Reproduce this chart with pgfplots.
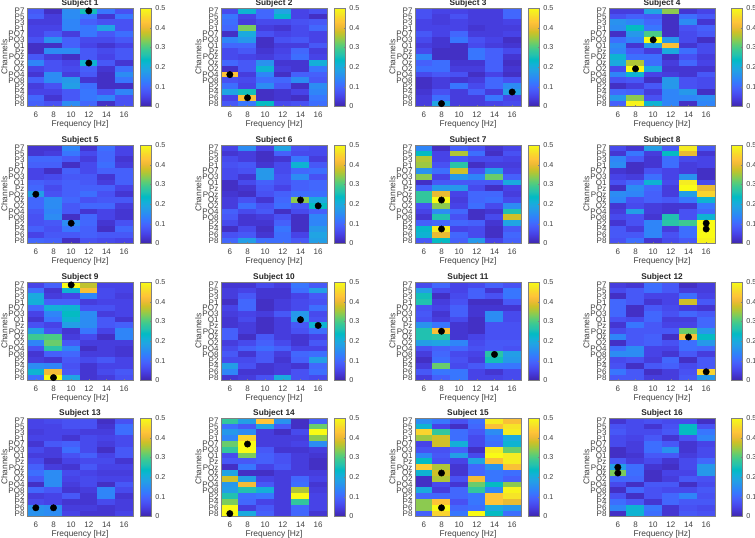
\documentclass[border=0pt]{standalone}
\usepackage{pgfplots}
\usepackage{pgfplotstable}
\usepackage{fontspec}
\setmainfont{Liberation Sans}
\pgfplotsset{compat=1.18}

% rows P7 ... P8, columns 6 ... 16 Hz
\pgfplotstableread[header=false]{
0.08 0.02 0.15 0.25 0.12 0.07
0.09 0.04 0.15 0.12 0.03 0.12
0.04 0.04 0.14 0.09 0.07 0.07
0.05 0.05 0.14 0.12 0.19 0.07
0.05 0.08 0.04 0.12 0.08 0.11
0.07 0.16 0.09 0.06 0.06 0.08
0.02 0.02 0.09 0.05 0.03 0.05
0.02 0.15 0.15 0.08 0.06 0.08
0.08 0.04 0.02 0.08 0.05 0.08
0.14 0.07 0.05 0.22 0.08 0.03
0.05 0.07 0.06 0.09 0.03 0.11
0.03 0.15 0.04 0.08 0.02 0.15
0.09 0.15 0.17 0.03 0.02 0.12
0.04 0.07 0.18 0.11 0.02 0.02
0.05 0.05 0.08 0.12 0.07 0.14
0.10 0.03 0.08 0.12 0.14 0.07
0.09 0.07 0.15 0.10 0.02 0.07
}\tA
\pgfplotstableread[header=false]{
0.06 0.22 0.10 0.19 0.05 0.07
0.12 0.05 0.10 0.23 0.05 0.02
0.11 0.04 0.06 0.06 0.07 0.08
0.10 0.33 0.04 0.03 0.06 0.10
0.02 0.20 0.07 0.05 0.06 0.05
0.14 0.17 0.02 0.07 0.08 0.05
0.10 0.10 0.02 0.04 0.04 0.08
0.06 0.08 0.03 0.05 0.10 0.04
0.06 0.05 0.04 0.06 0.11 0.05
0.10 0.08 0.16 0.03 0.03 0.21
0.02 0.08 0.22 0.04 0.03 0.12
0.43 0.04 0.14 0.02 0.09 0.09
0.07 0.06 0.11 0.10 0.15 0.08
0.11 0.05 0.15 0.08 0.02 0.15
0.19 0.25 0.02 0.03 0.05 0.14
0.05 0.42 0.02 0.03 0.02 0.12
0.08 0.12 0.24 0.06 0.07 0.11
}\tB
\pgfplotstableread[header=false]{
0.07 0.05 0.05 0.04 0.04 0.10
0.07 0.04 0.07 0.04 0.04 0.10
0.05 0.04 0.05 0.04 0.04 0.05
0.05 0.05 0.05 0.03 0.04 0.04
0.08 0.05 0.10 0.04 0.04 0.05
0.06 0.03 0.12 0.07 0.05 0.02
0.04 0.03 0.02 0.06 0.04 0.03
0.06 0.02 0.02 0.12 0.09 0.06
0.14 0.02 0.02 0.12 0.09 0.03
0.09 0.11 0.03 0.03 0.09 0.02
0.11 0.11 0.04 0.04 0.09 0.03
0.06 0.08 0.07 0.02 0.05 0.02
0.02 0.04 0.03 0.04 0.10 0.07
0.02 0.04 0.12 0.06 0.10 0.15
0.03 0.07 0.04 0.09 0.04 0.18
0.04 0.11 0.04 0.04 0.12 0.05
0.04 0.19 0.04 0.04 0.05 0.06
}\tC
\pgfplotstableread[header=false]{
0.04 0.04 0.19 0.34 0.03 0.05
0.07 0.09 0.08 0.02 0.11 0.08
0.16 0.14 0.10 0.02 0.15 0.03
0.15 0.24 0.12 0.02 0.07 0.09
0.02 0.17 0.30 0.02 0.06 0.08
0.11 0.14 0.50 0.17 0.06 0.02
0.15 0.03 0.18 0.42 0.03 0.06
0.14 0.08 0.04 0.20 0.11 0.06
0.22 0.11 0.11 0.02 0.07 0.04
0.20 0.36 0.11 0.04 0.10 0.05
0.06 0.50 0.20 0.03 0.03 0.03
0.14 0.22 0.05 0.04 0.03 0.08
0.07 0.08 0.02 0.17 0.07 0.06
0.02 0.04 0.08 0.17 0.07 0.06
0.10 0.09 0.04 0.14 0.17 0.02
0.17 0.34 0.07 0.14 0.14 0.15
0.09 0.49 0.22 0.14 0.02 0.14
}\tD
\pgfplotstableread[header=false]{
0.03 0.03 0.14 0.03 0.11 0.05
0.03 0.04 0.12 0.06 0.10 0.05
0.10 0.10 0.08 0.04 0.10 0.03
0.09 0.09 0.02 0.06 0.11 0.04
0.05 0.02 0.09 0.06 0.09 0.09
0.05 0.06 0.08 0.08 0.03 0.09
0.09 0.08 0.09 0.08 0.04 0.09
0.10 0.06 0.09 0.09 0.09 0.05
0.18 0.07 0.09 0.11 0.07 0.03
0.10 0.15 0.10 0.07 0.08 0.08
0.10 0.15 0.08 0.10 0.10 0.04
0.08 0.14 0.08 0.03 0.05 0.03
0.07 0.15 0.02 0.10 0.05 0.03
0.07 0.08 0.15 0.10 0.03 0.07
0.09 0.07 0.12 0.09 0.02 0.10
0.05 0.08 0.08 0.09 0.08 0.08
0.10 0.09 0.02 0.07 0.06 0.05
}\tE
\pgfplotstableread[header=false]{
0.05 0.15 0.05 0.19 0.07 0.06
0.03 0.04 0.02 0.09 0.06 0.06
0.06 0.04 0.02 0.03 0.12 0.04
0.07 0.08 0.03 0.06 0.22 0.08
0.06 0.07 0.17 0.06 0.10 0.11
0.06 0.03 0.17 0.07 0.15 0.07
0.02 0.06 0.09 0.07 0.09 0.10
0.02 0.03 0.08 0.05 0.09 0.10
0.03 0.02 0.07 0.09 0.11 0.11
0.04 0.07 0.03 0.10 0.34 0.20
0.04 0.11 0.07 0.11 0.08 0.24
0.09 0.06 0.08 0.02 0.06 0.09
0.08 0.03 0.04 0.07 0.02 0.14
0.06 0.03 0.03 0.09 0.02 0.14
0.02 0.06 0.02 0.12 0.02 0.17
0.07 0.08 0.03 0.11 0.05 0.19
0.10 0.18 0.11 0.11 0.08 0.18
}\tF
\pgfplotstableread[header=false]{
0.14 0.02 0.09 0.07 0.03 0.05
0.24 0.05 0.36 0.11 0.02 0.07
0.36 0.05 0.08 0.06 0.06 0.05
0.35 0.07 0.27 0.02 0.04 0.04
0.16 0.11 0.38 0.07 0.18 0.05
0.34 0.05 0.17 0.14 0.32 0.09
0.02 0.08 0.08 0.08 0.08 0.20
0.09 0.17 0.17 0.06 0.02 0.05
0.28 0.40 0.05 0.10 0.10 0.04
0.28 0.50 0.04 0.10 0.11 0.06
0.07 0.34 0.05 0.11 0.06 0.15
0.05 0.15 0.10 0.02 0.03 0.26
0.03 0.26 0.07 0.02 0.06 0.38
0.09 0.10 0.10 0.09 0.03 0.19
0.23 0.48 0.05 0.06 0.02 0.08
0.22 0.40 0.10 0.06 0.02 0.10
0.08 0.24 0.09 0.17 0.05 0.09
}\tG
\pgfplotstableread[header=false]{
0.06 0.03 0.18 0.08 0.48 0.08
0.03 0.12 0.04 0.24 0.40 0.03
0.14 0.08 0.03 0.11 0.06 0.05
0.15 0.02 0.03 0.11 0.04 0.05
0.03 0.02 0.07 0.05 0.04 0.02
0.05 0.04 0.11 0.05 0.16 0.02
0.07 0.10 0.22 0.06 0.48 0.06
0.02 0.15 0.10 0.04 0.50 0.40
0.15 0.14 0.09 0.04 0.18 0.45
0.14 0.07 0.09 0.08 0.12 0.22
0.03 0.06 0.04 0.03 0.03 0.12
0.04 0.18 0.04 0.03 0.07 0.10
0.06 0.07 0.03 0.26 0.07 0.22
0.03 0.07 0.14 0.27 0.29 0.50
0.08 0.04 0.14 0.04 0.11 0.50
0.08 0.08 0.14 0.07 0.11 0.50
0.07 0.11 0.03 0.06 0.08 0.49
}\tH
\pgfplotstableread[header=false]{
0.05 0.09 0.50 0.37 0.05 0.05
0.11 0.03 0.22 0.42 0.06 0.05
0.20 0.04 0.05 0.14 0.06 0.04
0.21 0.09 0.09 0.04 0.05 0.05
0.10 0.21 0.22 0.07 0.07 0.05
0.05 0.14 0.24 0.15 0.04 0.05
0.03 0.12 0.22 0.15 0.08 0.03
0.07 0.05 0.18 0.15 0.08 0.09
0.18 0.07 0.03 0.12 0.05 0.14
0.29 0.30 0.04 0.06 0.02 0.14
0.14 0.32 0.08 0.04 0.04 0.04
0.07 0.27 0.14 0.02 0.04 0.03
0.03 0.09 0.10 0.04 0.04 0.03
0.04 0.03 0.08 0.06 0.08 0.05
0.15 0.14 0.07 0.03 0.05 0.05
0.22 0.41 0.08 0.03 0.06 0.08
0.11 0.50 0.19 0.03 0.04 0.07
}\tI
\pgfplotstableread[header=false]{
0.03 0.03 0.06 0.04 0.12 0.08
0.04 0.05 0.03 0.03 0.11 0.18
0.04 0.08 0.03 0.03 0.05 0.08
0.02 0.10 0.02 0.04 0.06 0.07
0.05 0.10 0.02 0.04 0.06 0.11
0.04 0.05 0.04 0.08 0.17 0.06
0.03 0.06 0.02 0.04 0.18 0.07
0.03 0.04 0.02 0.04 0.08 0.22
0.09 0.04 0.02 0.04 0.07 0.11
0.09 0.02 0.08 0.04 0.03 0.05
0.04 0.06 0.09 0.06 0.03 0.08
0.06 0.09 0.11 0.09 0.05 0.05
0.08 0.03 0.08 0.04 0.10 0.11
0.06 0.06 0.08 0.03 0.09 0.18
0.18 0.07 0.03 0.04 0.03 0.10
0.14 0.03 0.03 0.04 0.07 0.11
0.03 0.04 0.07 0.20 0.07 0.06
}\tJ
\pgfplotstableread[header=false]{
0.06 0.10 0.05 0.06 0.09 0.07
0.18 0.06 0.05 0.09 0.03 0.12
0.25 0.02 0.06 0.09 0.07 0.12
0.26 0.04 0.07 0.02 0.02 0.08
0.07 0.05 0.09 0.03 0.03 0.03
0.08 0.03 0.09 0.03 0.15 0.06
0.07 0.04 0.06 0.02 0.15 0.06
0.16 0.12 0.03 0.02 0.07 0.07
0.26 0.42 0.03 0.02 0.07 0.07
0.26 0.27 0.03 0.05 0.07 0.07
0.18 0.19 0.14 0.06 0.08 0.08
0.07 0.09 0.10 0.07 0.08 0.07
0.04 0.10 0.06 0.05 0.27 0.18
0.02 0.11 0.07 0.04 0.25 0.17
0.04 0.32 0.06 0.08 0.12 0.12
0.08 0.12 0.12 0.05 0.03 0.06
0.04 0.09 0.12 0.05 0.05 0.06
}\tK
\pgfplotstableread[header=false]{
0.04 0.03 0.11 0.08 0.02 0.04
0.06 0.08 0.11 0.08 0.04 0.04
0.02 0.08 0.05 0.05 0.11 0.05
0.10 0.08 0.03 0.05 0.38 0.08
0.10 0.02 0.08 0.06 0.04 0.03
0.10 0.02 0.10 0.07 0.10 0.08
0.07 0.06 0.10 0.04 0.04 0.10
0.03 0.12 0.08 0.05 0.05 0.10
0.06 0.08 0.08 0.08 0.32 0.17
0.14 0.08 0.09 0.02 0.42 0.24
0.02 0.08 0.09 0.07 0.11 0.17
0.11 0.15 0.05 0.05 0.11 0.10
0.15 0.15 0.05 0.03 0.08 0.04
0.06 0.07 0.04 0.10 0.02 0.08
0.07 0.02 0.08 0.09 0.06 0.08
0.12 0.08 0.02 0.04 0.07 0.45
0.08 0.08 0.04 0.04 0.08 0.17
}\tL
\pgfplotstableread[header=false]{
0.05 0.06 0.07 0.07 0.02 0.07
0.05 0.05 0.07 0.07 0.03 0.11
0.04 0.05 0.05 0.04 0.04 0.11
0.05 0.05 0.03 0.06 0.05 0.06
0.03 0.08 0.09 0.06 0.04 0.06
0.06 0.04 0.11 0.06 0.02 0.08
0.04 0.04 0.07 0.09 0.05 0.08
0.06 0.02 0.05 0.06 0.06 0.03
0.09 0.04 0.03 0.08 0.05 0.05
0.11 0.15 0.06 0.05 0.04 0.04
0.08 0.15 0.05 0.06 0.05 0.05
0.02 0.15 0.04 0.06 0.02 0.08
0.10 0.08 0.03 0.04 0.14 0.06
0.04 0.05 0.08 0.03 0.14 0.03
0.06 0.05 0.03 0.03 0.06 0.04
0.16 0.15 0.04 0.04 0.03 0.04
0.16 0.15 0.05 0.03 0.03 0.05
}\tM
\pgfplotstableread[header=false]{
0.28 0.18 0.43 0.16 0.02 0.09
0.11 0.08 0.19 0.08 0.02 0.32
0.17 0.15 0.04 0.02 0.06 0.50
0.14 0.45 0.04 0.04 0.04 0.34
0.32 0.50 0.04 0.04 0.05 0.15
0.28 0.50 0.08 0.03 0.03 0.04
0.06 0.33 0.09 0.07 0.04 0.03
0.08 0.08 0.09 0.07 0.04 0.02
0.02 0.12 0.05 0.08 0.04 0.02
0.19 0.02 0.02 0.04 0.04 0.04
0.38 0.18 0.05 0.04 0.10 0.05
0.17 0.41 0.08 0.04 0.11 0.03
0.18 0.26 0.21 0.04 0.36 0.04
0.26 0.11 0.12 0.04 0.50 0.05
0.33 0.10 0.05 0.04 0.28 0.05
0.50 0.04 0.08 0.04 0.10 0.05
0.50 0.20 0.09 0.04 0.10 0.03
}\tN
\pgfplotstableread[header=false]{
0.15 0.12 0.07 0.11 0.48 0.42
0.22 0.05 0.02 0.10 0.42 0.47
0.45 0.28 0.11 0.08 0.15 0.48
0.35 0.38 0.11 0.06 0.12 0.20
0.05 0.38 0.21 0.06 0.11 0.22
0.07 0.07 0.09 0.02 0.48 0.32
0.14 0.08 0.18 0.06 0.50 0.48
0.24 0.07 0.05 0.19 0.42 0.48
0.44 0.36 0.03 0.10 0.16 0.42
0.22 0.38 0.03 0.10 0.12 0.11
0.02 0.36 0.07 0.41 0.12 0.09
0.02 0.06 0.03 0.32 0.24 0.34
0.20 0.04 0.10 0.28 0.14 0.49
0.10 0.10 0.10 0.12 0.43 0.47
0.34 0.43 0.07 0.12 0.43 0.40
0.34 0.50 0.10 0.11 0.20 0.17
0.09 0.45 0.12 0.50 0.24 0.11
}\tO
\pgfplotstableread[header=false]{
0.03 0.06 0.07 0.06 0.06 0.02
0.07 0.06 0.03 0.07 0.24 0.07
0.08 0.06 0.06 0.08 0.24 0.12
0.06 0.05 0.08 0.03 0.07 0.14
0.06 0.04 0.11 0.08 0.03 0.05
0.02 0.04 0.11 0.16 0.03 0.06
0.02 0.03 0.08 0.08 0.04 0.06
0.08 0.04 0.06 0.03 0.06 0.10
0.18 0.11 0.03 0.02 0.06 0.17
0.33 0.11 0.02 0.05 0.05 0.17
0.10 0.10 0.02 0.04 0.08 0.07
0.06 0.02 0.08 0.08 0.02 0.06
0.02 0.10 0.07 0.06 0.06 0.08
0.07 0.02 0.07 0.10 0.14 0.07
0.11 0.08 0.03 0.10 0.08 0.08
0.14 0.22 0.12 0.03 0.07 0.06
0.02 0.22 0.11 0.03 0.08 0.07
}\tP

\definecolor{txt}{gray}{0.25}
\pgfplotsset{
  every axis title shift=0pt,
  hm/.style={
    scale only axis, width=106pt, height=98.5pt, anchor=north west,
    xmin=5, xmax=17, ymin=-0.5, ymax=16.5, y dir=reverse, clip=false,
    axis on top, axis line style={draw=gray, line width=0.5pt},
    xtick={6,8,10,12,14,16}, ytick={0,...,16},
    yticklabels={P7,P5,P3,P1,PO7,PO3,O1,Pz,POz,Oz,O2,PO4,PO8,P2,P4,P6,P8},
    tick style={draw=gray, line width=0.3pt}, major tick length=1pt,
    tick align=inside, xtick pos=bottom, ytick pos=left,
    tick label style={font=\fontsize{8}{8}\selectfont, text=txt},
    /pgf/number format/assume math mode=true,
    xticklabel style={yshift=-1.5pt}, yticklabel style={xshift=1pt},
    xlabel={Frequency [Hz]}, ylabel={Channels},
    every axis x label/.style={at={(axis description cs:0.5,-0.182)},anchor=center,font=\fontsize{8.4}{9}\selectfont,text=txt},
    every axis y label/.style={at={(axis description cs:-0.213,0.5)},anchor=center,rotate=90,font=\fontsize{8.4}{9}\selectfont,text=txt},
    title style={font=\bfseries\fontsize{8.3}{9}\selectfont, text=black!85, at={(0.5,1)}, anchor=south, yshift=-2.5pt},
    colormap={parula}{
      rgb=(0.2422,0.1504,0.6603) rgb=(0.2647,0.1978,0.7952) rgb=(0.2783,0.2559,0.8991)
      rgb=(0.2810,0.3228,0.9579) rgb=(0.2699,0.3892,0.9906) rgb=(0.2206,0.4603,0.9973)
      rgb=(0.1786,0.5289,0.9682) rgb=(0.1540,0.5902,0.9218) rgb=(0.1248,0.6459,0.8883)
      rgb=(0.0689,0.6948,0.8394) rgb=(0.0067,0.7312,0.7660) rgb=(0.1408,0.7584,0.6842)
      rgb=(0.2161,0.7843,0.5923) rgb=(0.3406,0.8008,0.4789) rgb=(0.5044,0.7993,0.3480)
      rgb=(0.6720,0.7793,0.2227) rgb=(0.8203,0.7498,0.1535) rgb=(0.9393,0.7288,0.2100)
      rgb=(0.9970,0.7659,0.2199) rgb=(0.9786,0.8386,0.1766) rgb=(0.9597,0.9135,0.1423)
      rgb=(0.9769,0.9839,0.0805)},
    point meta min=0, point meta max=0.5,
    colorbar,
    colorbar style={
      width=11pt, ytick={0,0.1,0.2,0.3,0.4,0.5},
      yticklabels={0,0.1,0.2,0.3,0.4,0.5},
      axis line style={draw=gray, line width=0.5pt},
      major tick length=1pt,
      yticklabel style={font=\fontsize{7.2}{8}\selectfont, text=txt, xshift=0.5pt},
    },
    colorbar shift/.style={xshift=7pt},
  },
  last/.style={colorbar shift/.style={xshift=16pt}},
}

% table, title, left, top, extra axis options, dots
\newcommand{\hm}[6]{%
  \gdef\coords{}%
  \foreach \r in {0,...,16}{%
    \foreach \c/\f in {0/6,1/8,2/10,3/12,4/14,5/16}{%
      \pgfplotstablegetelem{\r}{[index]\c}\of{#1}%
      \xdef\coords{\coords (\f,\r) [\pgfplotsretval]}%
    }%
  }%
  \begin{axis}[hm, title={#2}, at={(#3pt,{538pt-#4pt})}, #5]
    \edef\temp{\noexpand\addplot[matrix plot*, mesh/cols=6, point meta=explicit] coordinates {\coords};}\temp
    \addplot[only marks, mark=*, mark size=3.2pt, black, point meta=none] coordinates {#6};
  \end{axis}%
}

\begin{document}
\begin{tikzpicture}
  \useasboundingbox (0,0) rectangle (755pt,538pt);
  \hm{\tA}{Subject 1}{27}{8}{}{(12,0) (12,9)}
  \hm{\tB}{Subject 2}{221}{8}{}{(6,11) (8,15)}
  \hm{\tC}{Subject 3}{415}{8}{}{(8,16) (16,14)}
  \hm{\tD}{Subject 4}{609}{8}{last}{(10,5) (8,10)}
  \hm{\tE}{Subject 5}{27}{145}{}{(6,8) (10,13)}
  \hm{\tF}{Subject 6}{221}{145}{}{(14,9) (16,10)}
  \hm{\tG}{Subject 7}{415}{145}{}{(8,9) (8,14)}
  \hm{\tH}{Subject 8}{609}{145}{last}{(16,13) (16,14)}
  \hm{\tI}{Subject 9}{27}{282}{}{(10,0) (8,16)}
  \hm{\tJ}{Subject 10}{221}{282}{}{(14,6) (16,7)}
  \hm{\tK}{Subject 11}{415}{282}{}{(8,8) (14,12)}
  \hm{\tL}{Subject 12}{609}{282}{last}{(14,9) (16,15)}
  \hm{\tM}{Subject 13}{27}{418}{}{(6,15) (8,15)}
  \hm{\tN}{Subject 14}{221}{418}{}{(8,4) (6,16)}
  \hm{\tO}{Subject 15}{415}{418}{}{(8,9) (8,15)}
  \hm{\tP}{Subject 16}{609}{418}{last}{(6,8) (6,9)}
\end{tikzpicture}
\end{document}
